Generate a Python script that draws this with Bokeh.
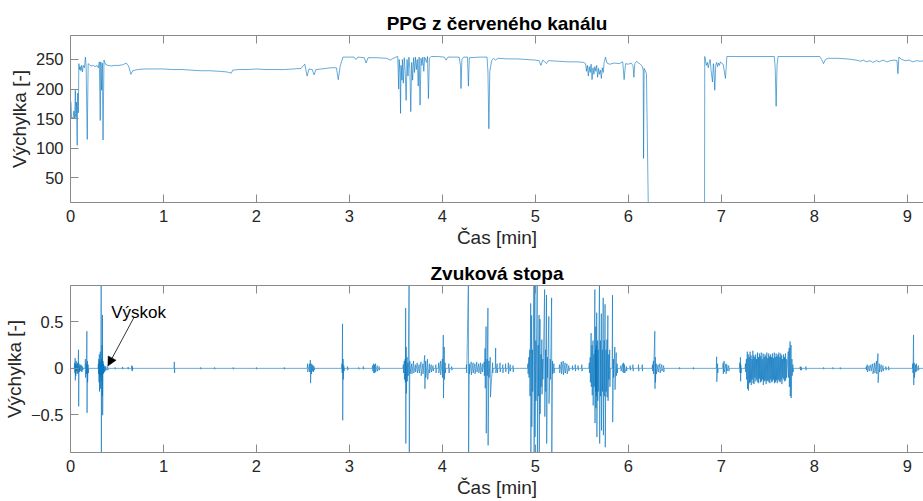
from bokeh.plotting import figure
from bokeh.layouts import column
from bokeh.models import Range1d, FixedTicker, LinearAxis, Arrow, NormalHead, Label
from bokeh.embed import file_html
from bokeh.resources import INLINE

# ---------------- data ----------------
x_ticks = [0, 1, 2, 3, 4, 5, 6, 7, 8, 9]
ppg_ticks = [50, 100, 150, 200, 250]
aud_ticks = [-0.5, 0, 0.5]
x_limits = (0, 9.175)
ppg_limits = (8.5, 290.5)
aud_limits = (-0.907, 0.893)

# PPG red-channel samples: (time [min], value)
ppg_samples = [
    (0.000, 181), (0.006, 176), (0.012, 150), (0.020, 152), (0.028, 150), (0.036, 163),
    (0.044, 150), (0.052, 198), (0.058, 152), (0.064, 178), (0.072, 105), (0.078, 193),
    (0.084, 160), (0.090, 243), (0.096, 233), (0.104, 238), (0.112, 231), (0.120, 240),
    (0.128, 229), (0.138, 240), (0.150, 236), (0.160, 254), (0.168, 238), (0.180, 115),
    (0.190, 243), (0.205, 241), (0.225, 239), (0.245, 240), (0.265, 238), (0.285, 240),
    (0.300, 236), (0.310, 246), (0.320, 147), (0.326, 246), (0.334, 198), (0.342, 244),
    (0.350, 114), (0.360, 249), (0.375, 242), (0.400, 240), (0.440, 239), (0.480, 240),
    (0.520, 240), (0.560, 241), (0.600, 244), (0.625, 239), (0.650, 225), (0.670, 231),
    (0.720, 233), (0.800, 234), (0.900, 234), (1.000, 234), (1.100, 233), (1.200, 233),
    (1.300, 232), (1.400, 231), (1.500, 231), (1.600, 230), (1.680, 229), (1.730, 227),
    (1.745, 232), (1.800, 233), (1.900, 233), (2.000, 234), (2.100, 233), (2.200, 233),
    (2.300, 233), (2.400, 234), (2.480, 235), (2.520, 242), (2.545, 222), (2.565, 234),
    (2.600, 233), (2.620, 224), (2.640, 233), (2.700, 234), (2.800, 236), (2.860, 236),
    (2.880, 216), (2.900, 238), (2.930, 254), (2.950, 254), (3.050, 254), (3.070, 250),
    (3.090, 254), (3.160, 253), (3.180, 244), (3.200, 253), (3.300, 253), (3.400, 252),
    (3.440, 249), (3.460, 251), (3.500, 254), (3.520, 255), (3.530, 200), (3.535, 250),
    (3.545, 225), (3.550, 159), (3.555, 240), (3.565, 215), (3.570, 250), (3.580, 210),
    (3.590, 253), (3.600, 230), (3.610, 181), (3.620, 250), (3.630, 222), (3.640, 254),
    (3.650, 235), (3.660, 162), (3.670, 245), (3.680, 215), (3.690, 253), (3.700, 228),
    (3.710, 254), (3.720, 233), (3.730, 250), (3.740, 205), (3.750, 254), (3.760, 173),
    (3.770, 252), (3.780, 240), (3.790, 254), (3.800, 230), (3.810, 254), (3.830, 245),
    (3.840, 255), (3.850, 184), (3.860, 252), (3.880, 255), (3.950, 255), (4.020, 254),
    (4.040, 249), (4.060, 254), (4.180, 254), (4.195, 240), (4.200, 201), (4.210, 250),
    (4.230, 254), (4.270, 254), (4.280, 205), (4.290, 253), (4.400, 254), (4.480, 254),
    (4.490, 230), (4.500, 133), (4.510, 230), (4.530, 248), (4.550, 252), (4.570, 249),
    (4.600, 252), (4.700, 251), (4.800, 251), (4.900, 250), (5.000, 249), (5.040, 248),
    (5.060, 240), (5.080, 249), (5.120, 243), (5.140, 248), (5.250, 247), (5.350, 246),
    (5.450, 246), (5.520, 245), (5.540, 243), (5.550, 230), (5.560, 240), (5.570, 222),
    (5.580, 238), (5.590, 228), (5.600, 242), (5.610, 216), (5.620, 236), (5.630, 225),
    (5.640, 238), (5.650, 230), (5.660, 240), (5.670, 220), (5.680, 235), (5.690, 225),
    (5.700, 232), (5.710, 218), (5.720, 236), (5.730, 228), (5.740, 245), (5.755, 254),
    (5.770, 244), (5.800, 242), (5.850, 244), (5.900, 243), (5.940, 246), (5.955, 216),
    (5.970, 243), (6.000, 242), (6.030, 244), (6.050, 240), (6.060, 220), (6.070, 243),
    (6.090, 247), (6.110, 244), (6.130, 242), (6.150, 238), (6.160, 232), (6.164, 83),
    (6.170, 235), (6.180, 232), (6.195, 226), (6.215, 0), (6.820, 0), (6.822, 255),
    (6.830, 248), (6.840, 240), (6.850, 245), (6.860, 236), (6.870, 244), (6.880, 250),
    (6.890, 232), (6.905, 212), (6.915, 243), (6.920, 235), (6.930, 198), (6.940, 240),
    (6.950, 245), (6.960, 238), (6.970, 244), (6.980, 240), (6.990, 246), (7.000, 244),
    (7.020, 242), (7.045, 218), (7.060, 255), (7.570, 255), (7.580, 235), (7.590, 171),
    (7.600, 240), (7.610, 255), (8.060, 255), (8.080, 250), (8.100, 243), (8.120, 250),
    (8.150, 252), (8.250, 252), (8.350, 251), (8.450, 249), (8.500, 247), (8.530, 249),
    (8.560, 246), (8.600, 248), (8.630, 245), (8.670, 248), (8.700, 246), (8.740, 249),
    (8.780, 246), (8.820, 248), (8.860, 249), (8.890, 248), (8.900, 226), (8.910, 254),
    (8.940, 250), (8.980, 248), (9.020, 249), (9.060, 246), (9.100, 248), (9.140, 247),
    (9.180, 248),
]

# Audio track: spikes (time [min], positive peak, negative peak)
audio_spikes = [
    (0.045, 0.06, -0.05), (0.050, 0.11, -0.13), (0.055, 0.04, -0.08), (0.062, 0.08, -0.03),
    (0.070, 0.05, -0.06), (0.078, 0.06, -0.05), (0.086, 0.20, -0.41), (0.092, 0.05, -0.04),
    (0.100, 0.03, -0.03), (0.110, 0.04, -0.03), (0.120, 0.03, -0.04), (0.130, 0.02, -0.02),
    (0.160, 0.10, -0.10), (0.170, 0.05, -0.06), (0.176, 0.40, -0.48), (0.182, 0.08, -0.15),
    (0.190, 0.04, -0.05),
    (0.300, 0.05, -0.06), (0.305, 0.10, -0.15), (0.310, 0.15, -0.25), (0.315, 0.08, -0.10),
    (0.320, 0.18, -0.22), (0.325, 0.06, -0.07), (0.330, 0.95, -0.95), (0.335, 0.10, -0.14),
    (0.340, 0.25, -0.30), (0.344, 0.575, -0.505), (0.350, 0.08, -0.06), (0.355, 0.05, -0.05),
    (0.362, 0.03, -0.04), (0.370, 0.02, -0.03), (0.380, 0.02, -0.02),
    (0.400, 0.02, -0.02), (0.480, 0.01, -0.01), (0.560, 0.015, -0.01), (0.620, 0.015, -0.01),
    (0.660, 0.03, -0.03), (0.665, 0.02, -0.02), (1.117, 0.07, -0.05), (1.400, 0.01, -0.01),
    (1.550, 0.01, -0.01), (1.750, 0.01, -0.01), (2.000, 0.01, -0.01), (2.300, 0.01, -0.01),
    (2.550, 0.05, -0.04),
    (2.570, 0.05, -0.04), (2.580, 0.09, -0.16), (2.590, 0.05, -0.06), (2.600, 0.04, -0.03),
    (2.610, 0.03, -0.04), (2.620, 0.02, -0.02),
    (2.920, 0.05, -0.05), (2.926, 0.48, -0.56), (2.932, 0.10, -0.12), (2.940, 0.03, -0.03),
    (2.980, 0.02, -0.02), (3.100, 0.01, -0.01), (3.150, 0.02, -0.01),
    (3.250, 0.03, -0.03), (3.260, 0.05, -0.05), (3.270, 0.04, -0.05), (3.280, 0.05, -0.04),
    (3.300, 0.03, -0.03), (3.320, 0.02, -0.02),
    (3.580, 0.04, -0.05), (3.590, 0.08, -0.12), (3.600, 0.10, -0.15), (3.605, 0.65, -0.81),
    (3.610, 0.23, -0.27), (3.620, 0.12, -0.14), (3.630, 0.06, -0.08), (3.642, 0.95, -0.95),
    (3.650, 0.08, -0.06), (3.670, 0.05, -0.06), (3.690, 0.08, -0.05), (3.710, 0.04, -0.04),
    (3.730, 0.06, -0.05), (3.750, 0.04, -0.05), (3.770, 0.07, -0.08), (3.790, 0.05, -0.06),
    (3.810, 0.14, -0.22), (3.820, 0.08, -0.10), (3.840, 0.10, -0.12), (3.860, 0.05, -0.05),
    (3.880, 0.04, -0.04), (3.900, 0.03, -0.03), (3.930, 0.04, -0.05), (3.960, 0.06, -0.05),
    (3.980, 0.08, -0.07), (4.000, 0.10, -0.10), (4.010, 0.36, -0.32), (4.020, 0.23, -0.12),
    (4.030, 0.06, -0.05), (4.070, 0.05, -0.05), (4.100, 0.02, -0.02),
    (4.260, 0.04, -0.05), (4.280, 0.95, -0.95), (4.290, 0.05, -0.06), (4.310, 0.07, -0.07),
    (4.330, 0.06, -0.05), (4.350, 0.05, -0.06), (4.370, 0.07, -0.04), (4.390, 0.05, -0.05),
    (4.410, 0.06, -0.06), (4.430, 0.05, -0.04), (4.450, 0.07, -0.08), (4.459, 0.215, -0.215),
    (4.470, 0.45, -0.70), (4.480, 0.10, -0.08), (4.490, 0.65, -0.83), (4.500, 0.08, -0.10),
    (4.515, 0.12, -0.31), (4.540, 0.06, -0.05), (4.573, 0.22, -0.05), (4.590, 0.05, -0.05),
    (4.620, 0.06, -0.04), (4.650, 0.04, -0.05), (4.680, 0.05, -0.04), (4.710, 0.06, -0.06),
    (4.730, 0.04, -0.03), (4.760, 0.03, -0.04),
    (4.920, 0.05, -0.06), (4.930, 0.12, -0.10), (4.940, 0.20, -0.30), (4.950, 0.70, -0.95),
    (4.960, 0.57, -0.63), (4.970, 0.20, -0.25), (4.985, 0.95, -0.95), (4.995, 0.95, -0.74),
    (5.005, 0.30, -0.35), (5.020, 0.95, -0.95), (5.030, 0.25, -0.30), (5.040, 0.575, -0.95),
    (5.050, 0.53, -0.49), (5.060, 0.15, -0.20), (5.070, 0.31, -0.28), (5.080, 0.10, -0.12),
    (5.100, 0.85, -0.52), (5.110, 0.20, -0.25), (5.120, 0.79, -0.81), (5.130, 0.12, -0.10),
    (5.145, 0.56, -0.38), (5.160, 0.10, -0.12), (5.175, 0.76, -0.95), (5.185, 0.08, -0.06),
    (5.200, 0.05, -0.05),
    (5.260, 0.04, -0.05), (5.280, 0.07, -0.06), (5.300, 0.08, -0.07), (5.320, 0.06, -0.05),
    (5.340, 0.05, -0.06), (5.360, 0.03, -0.03), (5.400, 0.03, -0.02), (5.430, 0.04, -0.03),
    (5.460, 0.03, -0.02), (5.500, 0.04, -0.03),
    (5.580, 0.06, -0.05), (5.590, 0.12, -0.15), (5.600, 0.38, -0.20), (5.610, 0.25, -0.29),
    (5.620, 0.30, -0.40), (5.630, 0.15, -0.20), (5.640, 0.85, -0.59), (5.645, 0.20, -0.25),
    (5.650, 0.45, -0.43), (5.655, 0.25, -0.30), (5.660, 0.60, -0.74), (5.670, 0.30, -0.35),
    (5.675, 0.20, -0.25), (5.690, 0.95, -0.81), (5.700, 0.30, -0.30), (5.710, 0.59, -0.67),
    (5.720, 0.20, -0.25), (5.730, 0.76, -0.72), (5.740, 0.30, -0.30), (5.750, 0.69, -0.85),
    (5.760, 0.20, -0.25), (5.770, 0.31, -0.31), (5.780, 0.57, -0.35), (5.790, 0.15, -0.12),
    (5.800, 0.20, -0.20), (5.830, 0.79, -0.58), (5.840, 0.10, -0.10), (5.855, 0.23, -0.23),
    (5.870, 0.17, -0.08), (5.880, 0.05, -0.05),
    (5.920, 0.03, -0.03), (5.940, 0.05, -0.04), (5.950, 0.06, -0.05), (5.960, 0.04, -0.05),
    (5.980, 0.02, -0.03), (6.020, 0.03, -0.02), (6.050, 0.04, -0.03), (6.110, 0.04, -0.03),
    (6.150, 0.04, -0.03),
    (6.260, 0.04, -0.03), (6.270, 0.08, -0.06), (6.285, 0.40, -0.22), (6.290, 0.12, -0.15),
    (6.300, 0.05, -0.06), (6.320, 0.04, -0.04), (6.340, 0.05, -0.05), (6.360, 0.04, -0.03),
    (6.380, 0.03, -0.04),
    (6.550, 0.01, -0.01), (6.700, 0.01, -0.01),
    (6.950, 0.125, -0.145), (6.960, 0.05, -0.05), (7.020, 0.06, -0.06), (7.030, 0.08, -0.04),
    (7.050, 0.05, -0.06), (7.060, 0.04, -0.03), (7.080, 0.03, -0.03),
    (7.200, 0.06, -0.05), (7.206, 0.12, -0.14), (7.210, 0.04, -0.05),
    (7.260, 0.05, -0.04), (7.270, 0.10, -0.12), (7.280, 0.18, -0.22), (7.290, 0.15, -0.24),
    (7.300, 0.12, -0.16), (7.310, 0.18, -0.15), (7.320, 0.14, -0.18), (7.330, 0.10, -0.12),
    (7.340, 0.19, -0.16), (7.350, 0.14, -0.17), (7.360, 0.12, -0.10), (7.370, 0.15, -0.14),
    (7.380, 0.10, -0.12), (7.390, 0.17, -0.15), (7.400, 0.12, -0.16), (7.410, 0.16, -0.11),
    (7.420, 0.13, -0.15), (7.430, 0.17, -0.14), (7.440, 0.10, -0.12), (7.450, 0.16, -0.18),
    (7.460, 0.12, -0.14), (7.470, 0.15, -0.13), (7.480, 0.13, -0.17), (7.490, 0.17, -0.14),
    (7.500, 0.11, -0.13), (7.510, 0.16, -0.15), (7.520, 0.13, -0.16), (7.530, 0.15, -0.12),
    (7.540, 0.12, -0.15), (7.550, 0.16, -0.14), (7.560, 0.11, -0.12), (7.570, 0.17, -0.16),
    (7.580, 0.12, -0.15), (7.590, 0.16, -0.13), (7.600, 0.13, -0.16), (7.610, 0.15, -0.12),
    (7.620, 0.17, -0.14), (7.630, 0.12, -0.15), (7.640, 0.16, -0.13), (7.650, 0.14, -0.17),
    (7.660, 0.10, -0.10), (7.670, 0.15, -0.12), (7.680, 0.12, -0.14), (7.690, 0.16, -0.13),
    (7.700, 0.10, -0.10), (7.720, 0.18, -0.10), (7.730, 0.22, -0.20), (7.740, 0.29, -0.30),
    (7.750, 0.25, -0.32), (7.760, 0.10, -0.08), (7.770, 0.04, -0.04),
    (7.850, 0.02, -0.02), (7.860, 0.015, -0.02), (7.910, 0.02, -0.02), (8.100, 0.01, -0.01),
    (8.200, 0.01, -0.01), (8.280, 0.01, -0.01),
    (8.560, 0.02, -0.02), (8.570, 0.04, -0.04), (8.590, 0.03, -0.03), (8.610, 0.04, -0.03),
    (8.630, 0.05, -0.06), (8.650, 0.06, -0.05), (8.670, 0.08, -0.06), (8.685, 0.16, -0.155),
    (8.700, 0.05, -0.04), (8.720, 0.04, -0.04), (8.740, 0.03, -0.03), (8.770, 0.02, -0.02),
    (8.800, 0.02, -0.02),
    (9.060, 0.05, -0.05), (9.068, 0.36, -0.18), (9.075, 0.06, -0.10), (9.090, 0.04, -0.04),
    (9.100, 0.05, -0.03), (9.120, 0.03, -0.02),
]

# annotation "Výskok": arrow target (time, value) and text anchor
jump_target = (0.402, 0.025)
jump_tail = (0.681, 0.546)
jump_text_pos = (0.437, 0.597)

# ---------------- build series ----------------
ppg_t = [t for t, v in ppg_samples]
ppg_v = [v for t, v in ppg_samples]

aud_t, aud_v = [0.0], [0.0]
prev = None
for t, hi, lo in audio_spikes:
    if prev is None or t - prev > 0.025:
        if prev is not None:
            aud_t.append(prev + 0.004); aud_v.append(0.0)
        aud_t.append(t - 0.004); aud_v.append(0.0)
    aud_t += [t, t + 0.002]
    aud_v += [hi, lo]
    prev = t + 0.002
aud_t += [prev + 0.004, x_limits[1] + 0.05]
aud_v += [0.0, 0.0]

# ---------------- styling ----------------
FONT = "Liberation Sans"
BLUE = "#0072BD"
TXT = "#262626"
BORDER = "#8a8a8a"


def style_axis(ax):
    ax.axis_line_color = BORDER
    ax.axis_line_width = 1
    ax.major_tick_line_color = BORDER
    ax.major_tick_in = 8
    ax.major_tick_out = 0
    ax.minor_tick_line_color = None
    ax.major_label_text_font = FONT
    ax.major_label_text_font_size = "16.5px"
    ax.major_label_text_color = TXT
    ax.axis_label_text_font = FONT
    ax.axis_label_text_font_size = "19px"
    ax.axis_label_text_font_style = "normal"
    ax.axis_label_text_color = TXT


def make_fig(height, top, bottom, title, ylim, yticks):
    p = figure(width=923, height=height, x_range=Range1d(*x_limits), y_range=Range1d(*ylim),
               output_backend="svg", toolbar_location=None,
               min_border_left=69, min_border_right=0, min_border_top=top,
               min_border_bottom=bottom, title=title)
    p.outline_line_color = None
    p.grid.visible = False
    p.background_fill_color = "white"
    p.border_fill_color = "white"
    p.title.text_font = FONT
    p.title.text_font_size = "19px"
    p.title.text_font_style = "bold"
    p.title.text_color = "black"
    p.title.align = "center"
    p.title.standoff = 4
    p.xaxis.ticker = FixedTicker(ticks=x_ticks)
    p.yaxis.ticker = FixedTicker(ticks=yticks)
    p.xaxis.axis_label = "Čas [min]"
    p.yaxis.axis_label = "Výchylka [-]"
    for ax in list(p.xaxis) + list(p.yaxis):
        style_axis(ax)
    p.xaxis.major_label_standoff = 7
    p.xaxis.axis_label_standoff = 2
    p.yaxis.major_label_standoff = 7
    p.yaxis.axis_label_standoff = 3
    top_ax = LinearAxis(ticker=FixedTicker(ticks=x_ticks), major_label_text_font_size="0px",
                        major_label_standoff=0, major_label_text_alpha=0)
    style_axis(top_ax)
    top_ax.major_label_text_font_size = "0px"
    p.add_layout(top_ax, "above")
    return p


p1 = make_fig(258, 35, 56, "PPG z červeného kanálu", ppg_limits, ppg_ticks)
p1.line(ppg_t, ppg_v, line_width=0.6, line_color=BLUE)

p2 = make_fig(243, 27, 49, "Zvuková stopa", aud_limits, aud_ticks)
p2.line(aud_t, aud_v, line_width=0.6, line_color=BLUE)

p2.add_layout(Arrow(end=NormalHead(size=9, fill_color="black", line_color="black", line_width=0.5),
                    x_start=jump_tail[0], y_start=jump_tail[1],
                    x_end=jump_target[0], y_end=jump_target[1],
                    line_color="black", line_width=0.8))
p2.add_layout(Label(x=jump_text_pos[0], y=jump_text_pos[1], text="Výskok",
                    text_font=FONT, text_font_size="17px", text_color="black",
                    text_baseline="alphabetic"))

layout = column(p1, p2, spacing=0)
open("out.html", "w").write(file_html(layout, INLINE))
